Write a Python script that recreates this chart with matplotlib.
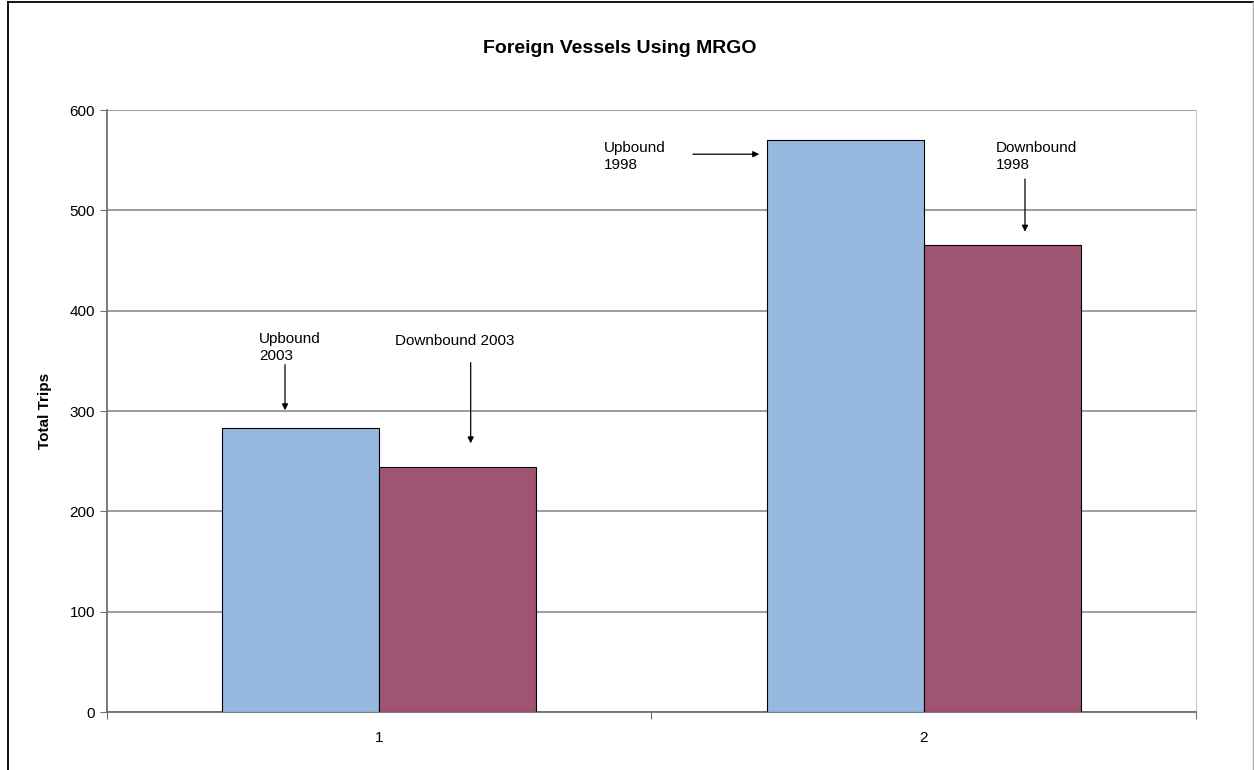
import matplotlib.pyplot as plt
import numpy as np
from matplotlib.lines import Line2D

plt.rcParams['font.family'] = ['Liberation Sans', 'DejaVu Sans']

# Valeurs
categories = ["1", "2"]
upbound = [283, 570]
downbound = [244, 465]

fig = plt.figure(figsize=(12.54, 7.70), dpi=100)
ax = fig.add_axes([0.0853, 0.0753, 0.8684, 0.7818])

x = np.arange(1, len(categories) + 1)
w = 0.288
ax.bar(x - w / 2, upbound, width=w, color="#97B9E0", edgecolor="black", linewidth=0.8, zorder=3)
ax.bar(x + w / 2, downbound, width=w, color="#A05474", edgecolor="black", linewidth=0.8, zorder=3)

ax.set_xlim(0.5, 2.5)
ax.set_ylim(0, 600)
ax.set_yticks(range(0, 601, 100))
ax.set_xticks([0.5, 1.5, 2.5], minor=False)
ax.set_xticklabels([])
ax.set_xticks(x, minor=True)
ax.set_xticklabels(categories, minor=True)
ax.tick_params(axis="x", which="minor", length=0, pad=14, labelsize=11)
ax.tick_params(axis="x", which="major", length=5, color="#707070")
ax.tick_params(axis="y", length=5, color="#707070", labelsize=11)

ax.grid(axis="y", color="#8c8c8c", linewidth=1.2, zorder=0)
ax.spines["top"].set_visible(False)
ax.spines["right"].set_color("#c8c8c8")
ax.spines["left"].set_color("#707070")
ax.spines["bottom"].set_color("#707070")
ax.spines["left"].set_linewidth(1.3)
ax.spines["bottom"].set_linewidth(1.3)

ax.set_ylabel("Total Trips", fontsize=11, fontweight="bold", labelpad=13)
fig.text(0.494, 0.937, "Foreign Vessels Using MRGO", ha="center", va="center",
         fontsize=14, fontweight="bold")

# Annotations avec flèches
arrow = dict(arrowstyle="-|>", color="black", lw=0.9, mutation_scale=9)
ax.text(0.779, 379, "Upbound\n2003", fontsize=11, va="top", ha="left", linespacing=1.3)
ax.annotate("", xy=(0.827, 298), xytext=(0.827, 349), arrowprops=arrow)
ax.text(1.029, 377, "Downbound 2003", fontsize=11, va="top", ha="left")
ax.annotate("", xy=(1.168, 265), xytext=(1.168, 351), arrowprops=arrow)
ax.text(1.413, 569, "Upbound\n1998", fontsize=11, va="top", ha="left", linespacing=1.3)
ax.annotate("", xy=(1.703, 556), xytext=(1.571, 556), arrowprops=arrow)
ax.text(2.133, 569, "Downbound\n1998", fontsize=11, va="top", ha="left", linespacing=1.3)
ax.annotate("", xy=(2.186, 476), xytext=(2.186, 534), arrowprops=arrow)

# Cadre de la figure
fig.add_artist(Line2D([7.5 / 1254, 7.5 / 1254], [0, 1 - 1.5 / 770], transform=fig.transFigure,
                      color="black", lw=1.3))
fig.add_artist(Line2D([7.5 / 1254, 1 - 1 / 1254], [1 - 1.5 / 770, 1 - 1.5 / 770],
                      transform=fig.transFigure, color="black", lw=1.3))
fig.add_artist(Line2D([1 - 1 / 1254, 1 - 1 / 1254], [0, 1 - 1.5 / 770], transform=fig.transFigure,
                      color="#b0b0b0", lw=1.0))

fig.savefig("out.png", dpi=100)
